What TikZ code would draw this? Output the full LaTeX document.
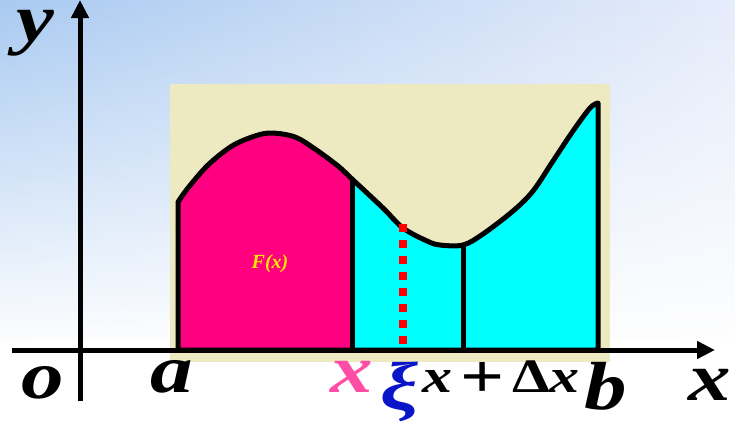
\documentclass[tikz,border=0pt]{standalone}
\usepackage{fontspec}
\setmainfont{Liberation Serif}
\newfontfamily\labelfont[FakeStretch=1.25]{Liberation Serif}
\usetikzlibrary{arrows.meta, fadings}
\definecolor{skyBlue}{HTML}{A9CAF1}
\definecolor{skyPale}{HTML}{E6ECFA}
\definecolor{paperBeige}{HTML}{EDE9C0}
\definecolor{areaPink}{HTML}{FF0080}
\definecolor{areaCyan}{HTML}{00FFFF}
\definecolor{labelPink}{HTML}{FF4DA6}
\definecolor{labelBlue}{HTML}{0A14C8}
\definecolor{labelYellow}{HTML}{FFE600}
\definecolor{dotRed}{HTML}{FF0000}
\tikzset{
  axisLine/.style={-{Triangle[length=18pt, width=17pt]}, line width=5pt},
  curveLine/.style={line width=5pt, line join=round},
  stripLine/.style={line width=5pt},
  dotLine/.style={dotRed, line width=8pt, dash pattern=on 8pt off 8pt},
  lbl/.style={font=\fontsize{68}{68}\labelfont\bfseries\itshape, inner sep=0pt, anchor=base},
}
\def\underCurve{(178,350) -- plot[smooth, tension=0.55] coordinates {(178,202) (188,188)
  (208,165) (232,146) (255,136) (272,133) (295,137) (315,149) (338,166) (352,179)
  (383,208) (403,228) (427,241) (440,245) (463,245) (483,234) (513,211) (533,191)
  (553,161) (573,131) (590,108) (598,103)} -- (598,350) -- cycle}

\begin{document}
\begin{tikzpicture}[x=1pt, y=-1pt]
  \useasboundingbox (0,0) rectangle (735,423);
  % background
  \fill[white] (0,0) rectangle (735,423);
  \fill[left color=skyBlue, right color=skyPale] (0,0) rectangle (735,340);
  \fill[white, path fading=north] (0,0) rectangle (735,352);
  \fill[paperBeige] (170,84) rectangle (610,362);

  % areas under the curve
  \fill[areaCyan] \underCurve;
  \begin{scope}
    \clip (170,0) rectangle (352,360);
    \fill[areaPink] \underCurve;
  \end{scope}
  \draw[curveLine] \underCurve;

  \coordinate (xBase) at (352,350);  \coordinate (xTop) at (352,179);
  \coordinate (dxBase) at (463,350); \coordinate (dxTop) at (463,245);
  \coordinate (xiBase) at (403,344); \coordinate (xiTop) at (403,224);
  \draw[stripLine] (xBase) -- (xTop);
  \draw[stripLine] (dxBase) -- (dxTop);
  \draw[dotLine] (xiTop) -- (xiBase);

  % axes
  \coordinate (xStart) at (12,350);  \coordinate (xEnd) at (715,350);
  \coordinate (yStart) at (80,401);  \coordinate (yEnd) at (80,0);
  \draw[axisLine] (xStart) -- (xEnd);
  \draw[axisLine] (yStart) -- (yEnd);

  % labels
  \node[lbl] (yLbl) at (35,41) {y};
  \node[lbl] (oLbl) at (43,398) {o};
  \node[lbl] (aLbl) at (172,392) {a};
  \node[lbl, text=labelPink] (xLbl) at (352,392) {x};
  \node[lbl, text=labelBlue, anchor=center] (xiLbl) at (400,392) {ξ};
  \node[lbl, font=\fontsize{48}{48}\labelfont\bfseries] (dxLbl) at (501,392)
    {\textit{x}\,\raisebox{-5pt}{\fontsize{62}{62}\selectfont+}\,Δ\textit{x}};
  \node[lbl] (bLbl) at (606,409) {b};
  \node[lbl] (xAxLbl) at (710,400) {x};
  \node[lbl, font=\fontsize{20}{20}\selectfont\bfseries\itshape, text=labelYellow] (fLbl) at (270,268) {F(x)};
\end{tikzpicture}
\end{document}
